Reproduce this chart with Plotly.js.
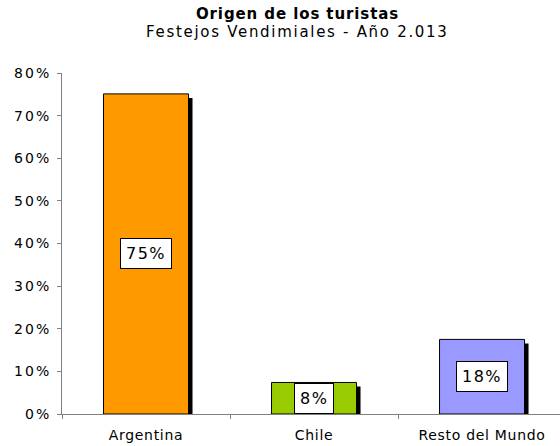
<!DOCTYPE html>
<html>
<head>
<meta charset="utf-8">
<script src="https://cdn.plot.ly/plotly-3.0.1.min.js"></script>
<style>
html,body{margin:0;padding:0;background:#fff;}
#chart{width:560px;height:446px;}
.gtitle{letter-spacing:0.9px;}
.xtick text{letter-spacing:0.7px;}
.ytick text{letter-spacing:2px;}
</style>
</head>
<body>
<div id="chart"></div>
<script>
var categories = ["Argentina", "Chile", "Resto del Mundo"];
var values = [75.1, 7.4, 17.5];
var labels = ["75%", "8%", "18%"];
var colors = ["#FF9900", "#99CC00", "#9999FF"];
var titleText = "Origen de los turistas";
var subtitleText = "Festejos Vendimiales - Año 2.013";

var FONT = "DejaVu Sans, Verdana, sans-serif";
var W = 560, H = 446, L = 62, T = 73, B = 32;
var yMax = 80;
var xRange = [-0.5, 2.464];
var pxPerCat = (W - L) / (xRange[1] - xRange[0]);
var pxPerUnit = (H - T - B) / yMax;
var barW = 85 / pxPerCat;
var sh = 4;

function spaced(t, ls) {
  return '<span style="letter-spacing:' + ls + 'px">' + t + '</span>';
}

var shadow = {
  type: "bar", x: categories,
  y: values.map(function (v) { return v - sh / pxPerUnit; }),
  width: barW, offset: -barW / 2 + sh / pxPerCat,
  marker: {color: "#000000", line: {width: 0}},
  hoverinfo: "skip", showlegend: false
};
var bars = {
  type: "bar", x: categories, y: values,
  width: barW,
  marker: {color: colors, line: {color: "#000000", width: 1}},
  showlegend: false
};

var ann = categories.map(function (c, i) {
  return {
    x: c, y: values[i] / 2, xref: "x", yref: "y", text: spaced(labels[i], 1.5),
    showarrow: false, bgcolor: "#FFFFFF", bordercolor: "#000000",
    borderwidth: 1, borderpad: 5, font: {family: FONT, size: 16, color: "#000"}
  };
});
ann.push({
  xref: "paper", yref: "paper", x: (297.5 - L) / (W - L), y: (H - B - 32) / (H - T - B),
  xanchor: "center", yanchor: "middle", showarrow: false, text: spaced(subtitleText, 1.7),
  font: {family: FONT, size: 15, color: "#000"}
});

var layout = {
  width: W, height: H,
  margin: {l: L, r: 0, t: T, b: B},
  paper_bgcolor: "#fff", plot_bgcolor: "#fff",
  barmode: "overlay",
  title: {
    text: "<b>" + titleText + "</b>", xref: "paper", x: (297.5 - L) / (W - L),
    xanchor: "center", yref: "container", y: 1 - 14 / H, yanchor: "middle",
    font: {family: FONT, size: 15, color: "#000"}
  },
  xaxis: {
    type: "category", range: xRange, tickson: "boundaries",
    ticks: "outside", ticklen: 4, tickcolor: "#808080",
    showline: true, linecolor: "#808080", linewidth: 1,
    showgrid: false, zeroline: false, fixedrange: true,
    ticklabelstandoff: 8,
    tickfont: {family: FONT, size: 14, color: "#000"}
  },
  yaxis: {
    range: [0, yMax], dtick: 10, ticksuffix: "%",
    ticks: "outside", ticklen: 4, tickcolor: "#808080",
    showline: true, linecolor: "#808080", linewidth: 1,
    showgrid: false, zeroline: false, fixedrange: true,
    ticklabelstandoff: 3,
    tickfont: {family: FONT, size: 14, color: "#000"}
  },
  annotations: ann
};

Plotly.newPlot("chart", [shadow, bars], layout, {staticPlot: true, displayModeBar: false});
</script>
</body>
</html>
